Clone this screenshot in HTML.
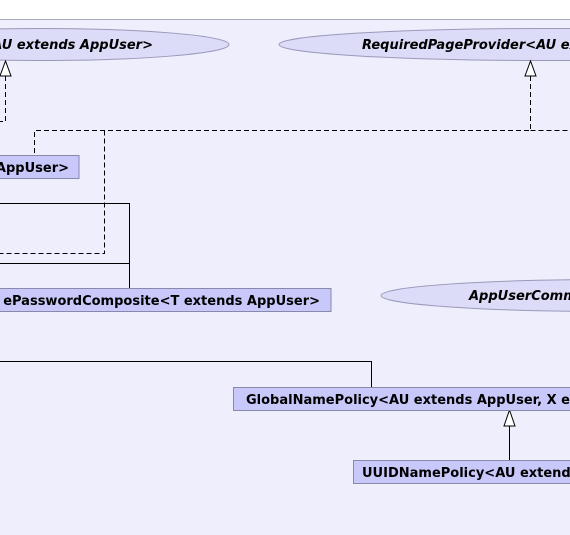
<!DOCTYPE html>
<html><head><meta charset="utf-8"><style>
html,body{margin:0;padding:0;background:#fff;}
svg{display:block;}
text{font-family:"DejaVu Sans","Liberation Sans",sans-serif;font-size:13px;font-weight:bold;fill:#000;}
.i{font-style:italic;}
</style></head><body>
<svg width="570" height="535" viewBox="0 0 570 535" xmlns="http://www.w3.org/2000/svg">
<rect x="0" y="19" width="570" height="516" fill="#eeeefc"/>
<line x1="0" y1="19.5" x2="570" y2="19.5" stroke="#a8a8b8" stroke-width="1"/>
<!-- ellipses -->
<ellipse cx="40" cy="44.5" rx="189" ry="16" fill="#dcdcf8" stroke="#9999bb"/>
<text x="153" y="49" text-anchor="end" class="i">AU extends AppUser&gt;</text>
<ellipse cx="545" cy="44.5" rx="266" ry="16" fill="#dcdcf8" stroke="#9999bb"/>
<text x="362" y="49" class="i">RequiredPageProvider&lt;AU extends AppUser&gt;</text>
<ellipse cx="610" cy="295.5" rx="229" ry="16" fill="#dcdcf8" stroke="#9999bb"/>
<text x="469" y="300" class="i">AppUserCommons</text>
<!-- dashed connectors -->
<g fill="none" stroke="#000" stroke-dasharray="5,3">
<path d="M5.5 76 V121.5 H0"/>
<path d="M530.5 76 V130.5 H34.5 V155"/>
<path d="M530.5 130.5 H570"/>
<path d="M104.5 130.5 V253.5 H0"/>
</g>
<polygon points="5.5,61 0,76 11,76" fill="#fff" stroke="#000"/>
<polygon points="530.5,61 525,76 536,76" fill="#fff" stroke="#000"/>
<!-- solid -->
<g fill="none" stroke="#000">
<path d="M0 203.5 H129.5 V288"/>
<path d="M0 263.5 H129.5"/>
<path d="M0 361.5 H371.5 V387"/>
<path d="M509.5 426 V460"/>
</g>
<polygon points="509.5,410 504,426 515,426" fill="#fff" stroke="#000"/>
<!-- boxes -->
<rect x="-5" y="155.5" width="84" height="23" fill="#c8c8fa" stroke="#8888aa"/>
<text x="69" y="172" text-anchor="end">AppUser&gt;</text>
<rect x="-5" y="288.5" width="336" height="23" fill="#c8c8fa" stroke="#8888aa"/>
<text x="320" y="305" text-anchor="end">ePasswordComposite&lt;T extends AppUser&gt;</text>
<rect x="233.5" y="387.5" width="345" height="23" fill="#c8c8fa" stroke="#8888aa"/>
<text x="246" y="404">GlobalNamePolicy&lt;AU extends AppUser, X extends</text>
<rect x="353.5" y="460.5" width="225" height="23" fill="#c8c8fa" stroke="#8888aa"/>
<text x="362" y="477">UUIDNamePolicy&lt;AU extends AppUser&gt;</text>
</svg>
</body></html>
